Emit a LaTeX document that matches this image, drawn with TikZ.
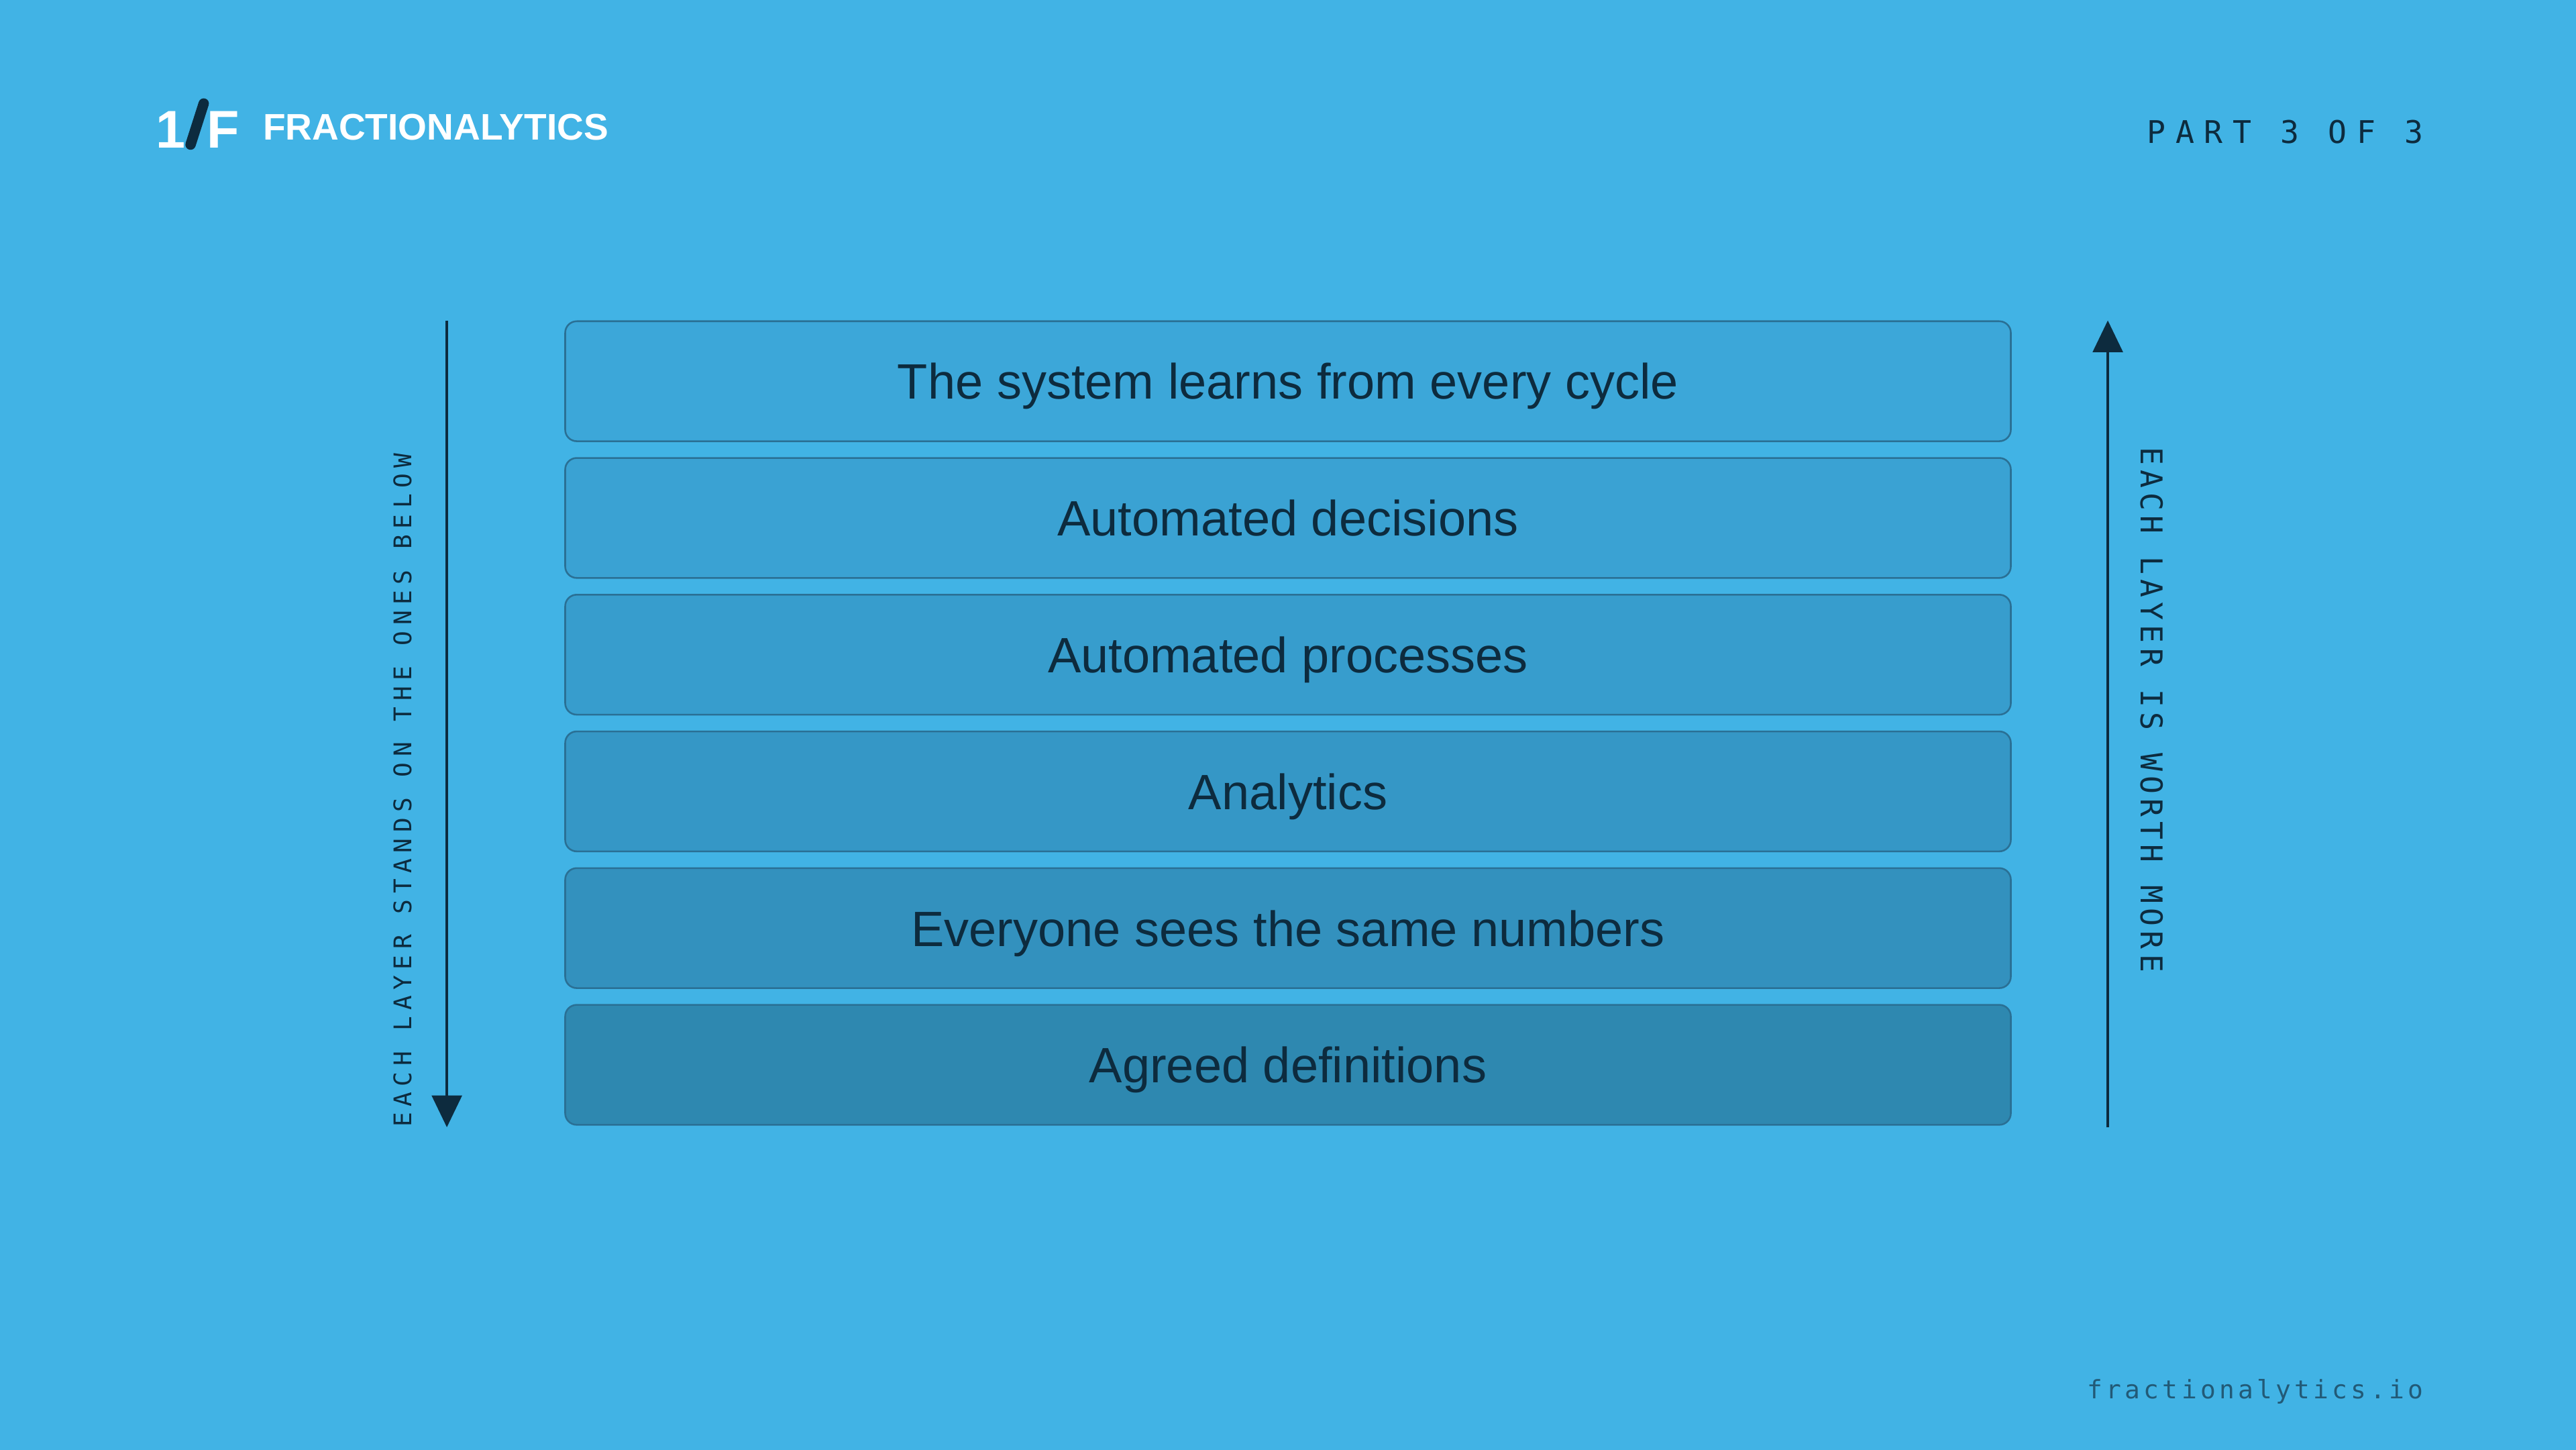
\documentclass[tikz,border=0pt]{standalone}
\usepackage{fontspec}
\setmainfont{Liberation Sans}
\newfontfamily\monof[LetterSpace=32]{DejaVu Sans Mono}
\newfontfamily\monol[LetterSpace=24]{DejaVu Sans Mono}
\newfontfamily\monor[LetterSpace=16]{DejaVu Sans Mono}
\newfontfamily\monou[LetterSpace=14]{DejaVu Sans Mono}
\usetikzlibrary{arrows.meta}
\definecolor{bgin}{HTML}{41B3E5}
\definecolor{bgout}{HTML}{3196CA}
\definecolor{ink}{HTML}{0D2B3E}
\definecolor{edge}{HTML}{2A7095}
\definecolor{bA}{HTML}{3CA7D9}
\definecolor{bB}{HTML}{3AA2D3}
\definecolor{bC}{HTML}{379DCD}
\definecolor{bD}{HTML}{3597C6}
\definecolor{bE}{HTML}{3391BE}
\definecolor{bF}{HTML}{2E88B0}
\pgfdeclareradialshading{vig}{\pgfpoint{0bp}{0bp}}{color(0bp)=(bgin); color(38bp)=(bgin); color(50bp)=(bgin!75!bgout); color(71bp)=(bgout)}
\tikzset{
 layer/.style={draw=edge,line width=3pt,rounded corners=20pt,minimum width=88cm,minimum height=7.3cm,text=ink,font=\fontsize{86}{96}\selectfont},
 axis/.style={draw=ink,line width=4pt,-{Triangle[length=55pt,width=52pt]}}
}
\begin{document}
\begin{tikzpicture}[x=0.1cm,y=0.1cm]
\useasboundingbox (0,0) rectangle (1568,-882);
\shade[shading=vig] (0,0) rectangle (1568,-882);
% logo
\node[anchor=base west,text=white,font=\bfseries\fontsize{92}{96}\selectfont,inner sep=0] (one) at (95,-90) {1};
\draw[ink,line width=18pt,line cap=round] (116,-88) -- (124,-63);
\node[anchor=base west,text=white,font=\bfseries\fontsize{92}{96}\selectfont,inner sep=0] (eff) at (126,-90) {F};
\node[anchor=base west,text=white,font=\bfseries\fontsize{64}{70}\selectfont,inner sep=0] (brand) at (160,-85) {FRACTIONALYTICS};
\node[anchor=base east,text=ink,font=\monof\fontsize{54}{60}\selectfont,inner sep=0] (part) at (1475,-87) {PART 3 OF 3};
\node[anchor=base east,text=edge!80!black,font=\monou\fontsize{44}{50}\selectfont,inner sep=0] (url) at (1475,-851) {fractionalytics.io};
% layers
\begin{scope}[every node/.append style={text depth=0pt}]
\node[layer,fill=bA] (l1) at (784,-232) {The system learns from every cycle};
\node[layer,fill=bB] (l2) at (784,-315.2) {Automated decisions};
\node[layer,fill=bC] (l3) at (784,-398.4) {Automated processes};
\node[layer,fill=bD] (l4) at (784,-481.6) {Analytics};
\node[layer,fill=bE] (l5) at (784,-564.8) {Everyone sees the same numbers};
\node[layer,fill=bF] (l6) at (784,-648) {Agreed definitions};
\end{scope}
% axes
\coordinate (la) at (272,-195); \coordinate (lb) at (272,-686);
\coordinate (ra) at (1283,-686); \coordinate (rb) at (1283,-195);
\draw[axis] (la) -- (lb);
\draw[axis] (ra) -- (rb);
\node[rotate=90,anchor=west,text=ink,font=\monol\fontsize{42}{50}\selectfont,inner sep=0] (lt) at (245,-686) {EACH LAYER STANDS ON THE ONES BELOW};
\node[rotate=-90,anchor=west,text=ink,font=\monor\fontsize{52}{60}\selectfont,inner sep=0] (rt) at (1310,-272) {EACH LAYER IS WORTH MORE};
\end{tikzpicture}
\end{document}
